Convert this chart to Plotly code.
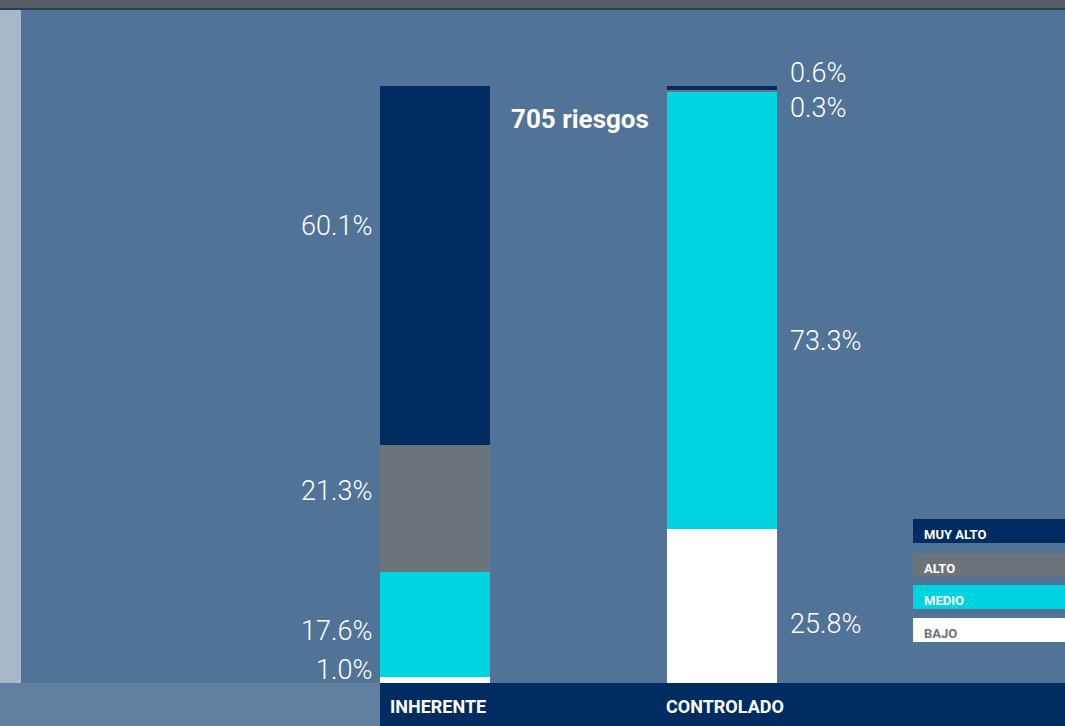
import plotly.graph_objects as go

# datos
escenarios = ["INHERENTE", "CONTROLADO"]
niveles = ["BAJO", "MEDIO", "ALTO", "MUY ALTO"]
inherente = [1.0, 17.6, 21.3, 60.1]
controlado = [25.8, 73.3, 0.3, 0.6]
total_riesgos = 705

# posición vertical de las etiquetas (en % del eje)
pos_etq_inherente = [2.2, 8.7, 32.2, 76.5]
pos_etq_controlado = [9.9, 57.3, 96.3, 102.2]

colores = {
    "BAJO": "#ffffff",
    "MEDIO": "#00d4e1",
    "ALTO": "#6b7479",
    "MUY ALTO": "#002c61",
}
fondo = "#527398"
ancho = 0.3826

fig = go.Figure()

for i, nivel in enumerate(niveles):
    fig.add_trace(go.Bar(
        x=[0, 1],
        y=[inherente[i], controlado[i]],
        width=ancho,
        name=nivel,
        marker=dict(color=colores[nivel], line=dict(width=0)),
        showlegend=False,
        hoverinfo="skip",
    ))

# etiquetas de porcentaje
fuente_pct = dict(size=27, color="white", weight=300)
for v, py in zip(inherente, pos_etq_inherente):
    fig.add_annotation(x=-ancho / 2, y=py, text=f"{v:.1f}%", showarrow=False,
                       xanchor="right", yanchor="middle", xshift=-6, font=fuente_pct)
for v, py in zip(controlado, pos_etq_controlado):
    fig.add_annotation(x=1 + ancho / 2, y=py, text=f"{v:.1f}%", showarrow=False,
                       xanchor="left", yanchor="middle", xshift=11, font=fuente_pct)

fig.add_annotation(x=0.5, y=94.5, text=f"<b>{total_riesgos} riesgos</b>", showarrow=False,
                   xanchor="center", yanchor="middle", xshift=2,
                   font=dict(size=26, color="white"))

# etiquetas de categoría en la banda inferior
for i, esc in enumerate(escenarios):
    fig.add_annotation(x=i - ancho / 2, y=-4.0, text=f"<b>{esc}</b>", showarrow=False,
                       xanchor="left", yanchor="middle", xshift=8 if i == 0 else -3,
                       font=dict(size=18, color="white"))

# fondo decorativo
shapes = [
    dict(type="rect", xref="paper", yref="paper", x0=0, x1=1, y0=1 - 8 / 726, y1=1,
         fillcolor="#555c68", line_width=0, layer="below"),
    dict(type="rect", xref="paper", yref="paper", x0=0, x1=1, y0=1 - 10 / 726, y1=1 - 8 / 726,
         fillcolor="#2f3a4e", line_width=0, layer="below"),
    dict(type="rect", xref="paper", yref="paper", x0=0, x1=21 / 1065, y0=43 / 726, y1=1 - 10 / 726,
         fillcolor="#a8b8ca", line_width=0, layer="below"),
    dict(type="rect", xref="paper", yref="paper", x0=0, x1=380 / 1065, y0=0, y1=43 / 726,
         fillcolor="#637f9f", line_width=0, layer="below"),
    dict(type="rect", xref="paper", yref="paper", x0=380 / 1065, x1=1, y0=0, y1=43 / 726,
         fillcolor="#002c61", line_width=0, layer="below"),
]

# leyenda manual
leyenda_y = [531, 565, 597, 630]
for nivel, cy in zip(reversed(niveles), leyenda_y):
    shapes.append(dict(type="rect", xref="paper", yref="paper",
                       x0=913 / 1065, x1=1, y0=1 - (cy + 12) / 726, y1=1 - (cy - 12) / 726,
                       fillcolor=colores[nivel], line_width=0))
    fig.add_annotation(xref="paper", yref="paper", x=922 / 1065, y=1 - (cy + 3) / 726,
                       text=f"<b>{nivel}</b>", showarrow=False,
                       xanchor="left", yanchor="middle",
                       font=dict(size=13, color="#6b7479" if nivel == "BAJO" else "white"))

fig.update_layout(
    barmode="stack",
    width=1065,
    height=726,
    margin=dict(l=0, r=0, t=0, b=0),
    paper_bgcolor=fondo,
    plot_bgcolor="rgba(0,0,0,0)",
    font=dict(family="Roboto"),
    shapes=shapes,
    xaxis=dict(range=[-1.5113, 2.1930], visible=False, fixedrange=True),
    yaxis=dict(range=[-7.203, 114.405], visible=False, fixedrange=True),
    bargap=0,
)

fig.write_html("out.html", config={"displayModeBar": False},
               post_script="document.body.style.margin='0';")
